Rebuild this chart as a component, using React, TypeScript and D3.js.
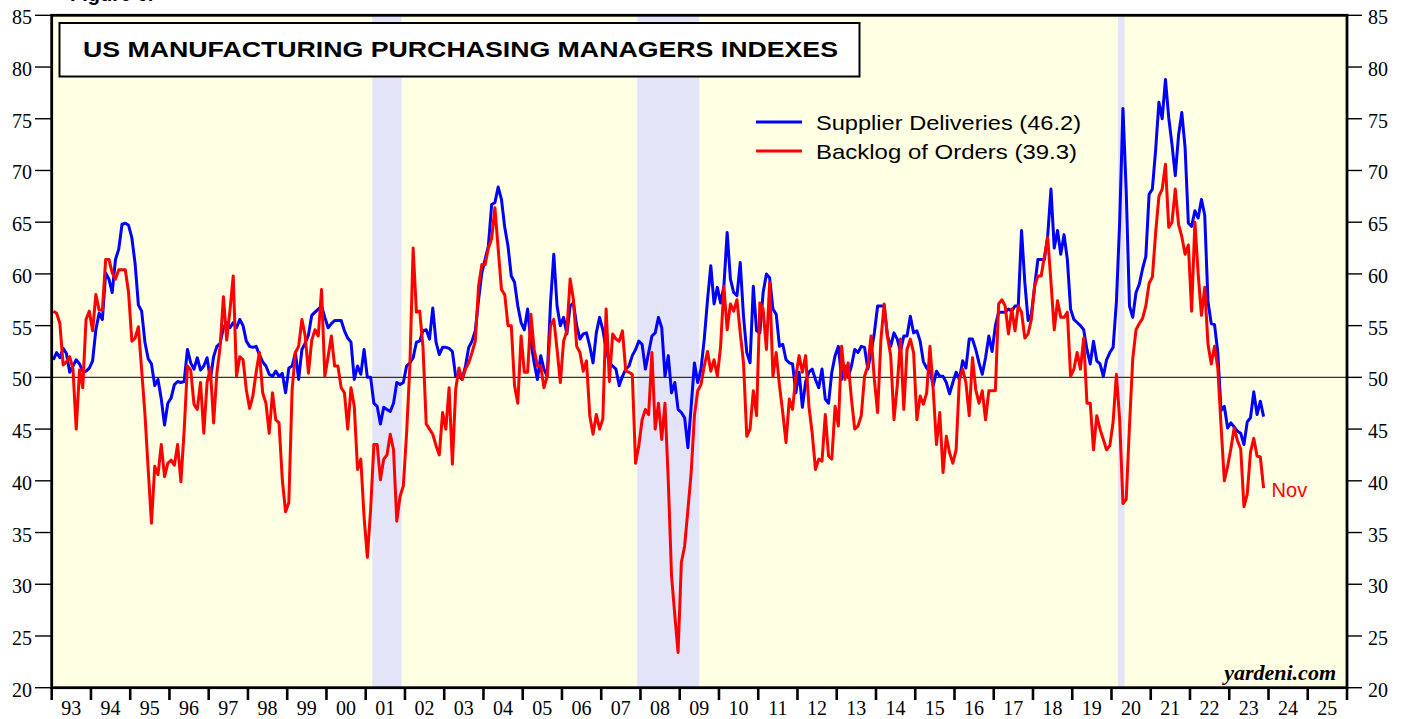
import React from "react";
import * as d3 from "d3";

const W = 1407;
const H = 719;

const yearLabels = ["93","94","95","96","97","98","99","00","01","02","03","04","05","06","07","08","09","10","11","12","13","14","15","16","17","18","19","20","21","22","23","24","25"];
const yTicks = [20, 25, 30, 35, 40, 45, 50, 55, 60, 65, 70, 75, 80, 85];

// recession bands as month index from Jan 1993 (start inclusive, end exclusive)
const recessions = [
  { start: 98, end: 107 },
  { start: 179, end: 198 },
  { start: 326, end: 328 },
];

// ISM Supplier Deliveries, monthly Jan 1993 - Nov 2023
const supplierDeliveries = [
  51.7, 52.4, 51.9, 52.8, 52.3, 50.5, 51.1, 51.7, 51.3, 50.6, 50.6, 50.9, // 1993
  51.6, 54.6, 56.2, 55.6, 60.1, 59.5, 58.2, 61.4, 62.4, 64.8, 64.9, 64.7, // 1994
  63.5, 61.0, 57.0, 56.4, 53.4, 51.8, 51.3, 49.2, 49.8, 47.9, 45.4, 47.5, // 1995
  48.0, 49.3, 49.6, 49.5, 49.6, 52.7, 51.4, 50.8, 51.9, 50.7, 51.1, 51.9, // 1996
  49.8, 52.0, 53.0, 53.3, 54.8, 55.3, 54.8, 55.3, 54.8, 55.6, 55.0, 53.5, // 1997
  53.0, 52.9, 53.0, 52.2, 51.5, 51.1, 50.3, 50.1, 50.6, 50.1, 50.4, 48.5, // 1998
  50.9, 51.1, 52.4, 49.8, 52.7, 53.3, 54.1, 56.0, 56.3, 56.6, 56.9, 55.8, // 1999
  54.8, 55.2, 55.5, 55.5, 55.5, 54.5, 53.8, 53.4, 49.8, 51.1, 50.3, 52.7, // 2000
  50.0, 50.0, 47.5, 47.2, 45.5, 47.1, 46.9, 46.7, 47.5, 49.5, 49.3, 49.5, // 2001
  51.1, 51.4, 51.9, 53.4, 53.5, 54.5, 54.6, 53.7, 56.7, 53.4, 52.2, 52.9, // 2002
  52.9, 52.8, 52.5, 50.1, 50.1, 49.8, 51.1, 52.9, 53.5, 54.5, 57.5, 60.1, // 2003
  61.4, 62.7, 66.7, 66.9, 68.4, 67.2, 64.5, 62.7, 59.8, 59.2, 56.9, 55.3, // 2004
  54.6, 56.6, 53.4, 51.4, 49.8, 52.1, 50.8, 50.1, 57.2, 61.9, 56.9, 55.0, // 2005
  55.8, 54.2, 56.9, 57.2, 55.0, 53.7, 54.2, 54.3, 53.0, 51.4, 54.3, 55.8, // 2006
  54.6, 52.7, 51.4, 51.1, 50.8, 49.2, 50.1, 50.8, 51.1, 52.1, 52.7, 53.5, // 2007
  53.2, 50.8, 52.4, 54.0, 54.3, 55.8, 54.8, 50.1, 52.1, 48.5, 49.5, 46.9, // 2008
  46.6, 46.1, 43.2, 47.2, 51.4, 49.5, 50.8, 53.7, 57.5, 60.8, 57.1, 58.7, // 2009
  57.2, 58.8, 64.0, 59.5, 58.2, 57.9, 61.1, 55.9, 52.4, 51.4, 58.8, 54.5, // 2010
  54.3, 58.2, 60.0, 59.6, 56.6, 56.1, 53.0, 53.2, 51.7, 51.4, 51.3, 48.5, // 2011
  50.5, 47.1, 49.6, 50.5, 50.8, 49.8, 49.0, 50.8, 47.9, 47.5, 50.5, 52.1, // 2012
  53.0, 49.8, 51.1, 50.0, 51.1, 52.7, 52.4, 53.0, 52.9, 50.8, 52.4, 54.3, // 2013
  56.9, 56.9, 56.9, 54.0, 53.0, 54.3, 53.7, 52.5, 54.0, 54.0, 55.9, 54.3, // 2014
  54.5, 53.5, 51.5, 50.9, 50.6, 49.2, 50.6, 50.1, 50.1, 49.5, 48.4, 49.5, // 2015
  50.5, 49.8, 51.6, 50.9, 53.7, 53.7, 52.7, 51.4, 50.3, 51.9, 54.0, 52.5, // 2016
  55.0, 56.3, 56.3, 56.3, 56.6, 56.4, 56.9, 56.9, 64.2, 59.2, 55.5, 56.1, // 2017
  58.8, 61.4, 61.4, 61.4, 63.7, 68.2, 62.5, 64.2, 61.9, 63.8, 61.4, 56.6, // 2018
  55.6, 55.3, 55.0, 54.6, 52.7, 51.3, 53.5, 51.6, 51.3, 50.1, 51.7, 52.4, // 2019
  52.9, 57.3, 65.0, 76.0, 68.0, 56.9, 55.8, 58.2, 59.0, 60.5, 61.7, 67.7, // 2020
  68.2, 72.0, 76.6, 75.0, 78.8, 75.1, 72.5, 69.5, 73.4, 75.6, 72.2, 64.9, // 2021
  64.6, 66.1, 65.4, 67.2, 65.7, 57.3, 55.2, 55.1, 52.4, 46.8, 47.2, 45.1, // 2022
  45.6, 45.2, 44.8, 44.6, 43.5, 45.7, 46.1, 48.6, 46.4, 47.7, 46.2,       // 2023
];

// ISM Backlog of Orders, monthly Jan 1993 - Nov 2023
const backlogOfOrders = [
  56.4, 56.2, 55.2, 51.2, 51.5, 52.0, 50.8, 45.0, 50.7, 49.0, 55.6, 56.4, // 1993
  54.5, 58.0, 56.5, 56.5, 61.4, 61.4, 60.1, 59.5, 60.4, 60.4, 60.4, 58.2, // 1994
  53.5, 53.8, 54.9, 50.7, 46.5, 41.1, 35.9, 41.4, 40.6, 43.5, 40.4, 41.7, // 1995
  42.0, 41.5, 43.5, 39.9, 44.9, 51.1, 50.7, 47.4, 46.9, 49.5, 44.6, 49.5, // 1996
  50.9, 45.6, 50.4, 53.0, 57.8, 53.6, 56.5, 59.8, 50.1, 52.0, 51.7, 48.8, // 1997
  47.0, 48.2, 50.5, 52.4, 48.5, 47.5, 44.6, 48.5, 45.9, 45.6, 40.1, 37.0, // 1998
  37.9, 48.8, 52.4, 53.0, 55.6, 54.0, 50.4, 53.6, 54.6, 54.0, 58.5, 50.1, // 1999
  52.0, 54.0, 51.1, 51.1, 49.0, 48.5, 45.0, 49.0, 47.2, 41.1, 42.1, 36.5, // 2000
  32.6, 37.2, 43.5, 43.5, 40.1, 42.1, 42.5, 44.5, 43.0, 36.1, 38.5, 39.5, // 2001
  44.6, 51.1, 62.5, 56.3, 56.4, 53.0, 45.5, 45.0, 44.5, 43.4, 42.5, 46.6, // 2002
  45.0, 49.0, 41.6, 48.8, 50.9, 49.8, 50.8, 51.4, 52.4, 53.5, 58.8, 60.9, // 2003
  60.9, 62.5, 63.4, 66.4, 62.4, 58.5, 58.0, 55.0, 55.0, 49.2, 47.5, 54.0, // 2004
  50.5, 50.5, 56.1, 52.7, 51.1, 51.1, 49.0, 50.1, 55.0, 55.6, 52.7, 49.5, // 2005
  53.5, 54.5, 59.5, 57.5, 53.0, 52.4, 50.6, 51.6, 46.3, 44.5, 46.4, 45.0, // 2006
  46.0, 56.6, 49.6, 54.2, 53.7, 53.5, 54.5, 50.6, 50.5, 50.3, 41.7, 43.4, // 2007
  45.9, 46.9, 46.4, 52.4, 45.0, 47.5, 44.0, 47.5, 40.0, 30.8, 27.0, 23.4, // 2008
  32.1, 33.7, 37.2, 40.8, 46.3, 48.7, 49.3, 51.1, 52.5, 50.6, 51.7, 50.1, // 2009
  53.0, 58.8, 54.6, 57.1, 56.4, 57.5, 54.3, 51.4, 44.3, 45.0, 48.7, 46.3, // 2010
  57.2, 56.6, 52.7, 59.2, 50.1, 52.4, 49.2, 46.6, 43.7, 47.9, 46.9, 50.1, // 2011
  52.1, 50.5, 52.1, 47.2, 44.6, 41.1, 42.1, 41.9, 46.4, 42.4, 42.1, 47.2, // 2012
  45.3, 53.0, 49.8, 51.4, 47.9, 45.0, 45.3, 46.3, 50.1, 51.1, 54.0, 49.8, // 2013
  46.6, 53.6, 57.1, 54.0, 52.1, 45.9, 49.2, 53.7, 46.9, 52.7, 53.7, 52.4, // 2014
  45.9, 48.2, 47.4, 48.5, 53.0, 48.8, 43.5, 46.6, 40.8, 44.3, 42.7, 41.7, // 2015
  43.0, 49.8, 50.8, 49.5, 46.3, 51.9, 48.8, 47.5, 48.7, 45.9, 48.7, 48.7, // 2016
  48.7, 57.1, 57.5, 56.9, 54.2, 56.6, 54.5, 56.9, 56.3, 53.8, 54.2, 55.6, // 2017
  58.8, 59.8, 59.8, 61.7, 63.5, 59.2, 54.6, 57.4, 55.8, 55.8, 56.3, 50.1, // 2018
  50.8, 52.4, 50.8, 53.8, 47.5, 47.5, 43.0, 46.3, 45.0, 44.0, 43.0, 43.4, // 2019
  45.7, 50.3, 45.9, 37.8, 38.2, 45.3, 51.8, 54.6, 55.2, 55.7, 56.9, 59.1, // 2020
  59.7, 64.0, 67.5, 68.2, 70.6, 64.5, 65.0, 68.2, 64.8, 63.6, 61.9, 62.8, // 2021
  56.4, 65.0, 60.0, 56.0, 58.7, 53.2, 51.3, 53.0, 50.9, 45.3, 40.0, 41.4, // 2022
  43.1, 45.1, 43.9, 43.1, 37.5, 38.7, 42.8, 44.1, 42.4, 42.3, 39.3,       // 2023
];

const seriesNames = ["Supplier Deliveries (46.2)", "Backlog of Orders (39.3)"];
const seriesColors = ["#0000FF", "#FF0000"];
const legendTextLengths = [265, 261];

const serif = "'Liberation Serif', 'DejaVu Serif', serif";
const sans = "'Liberation Sans', Arial, sans-serif";

export default function App() {
  const left = 51.7;
  const right = 1347;
  const top = 15.3;
  const bottom = 687.7;
  const totalMonths = yearLabels.length * 12;

  const x = d3.scaleLinear().domain([0, totalMonths]).range([left, right]);
  const y = d3.scaleLinear().domain([20, 85]).range([bottom, top]);

  const line = d3
    .line<number>()
    .x((_, i) => x(i + 0.5))
    .y((d) => y(d));

  const lastIdx = backlogOfOrders.length - 1;

  return (
    <div style={{ position: "absolute", left: 0, top: 0 }}>
      <svg width={W} height={H} style={{ display: "block", background: "#ffffff" }}>
        {/* plot background */}
        <rect x={left} y={top} width={right - left} height={bottom - top} fill="#FFFFE3" />
        {recessions.map((r, i) => (
          <rect key={i} x={x(r.start)} y={top} width={x(r.end) - x(r.start)} height={bottom - top} fill="#E4E4F9" />
        ))}

        {/* 50 line */}
        <line x1={left} x2={right} y1={y(50)} y2={y(50)} stroke="#333" strokeWidth={1.3} />

        {/* series */}
        <path d={line(supplierDeliveries) || ""} fill="none" stroke={seriesColors[0]} strokeWidth={3} strokeLinejoin="round" />
        <path d={line(backlogOfOrders) || ""} fill="none" stroke={seriesColors[1]} strokeWidth={3} strokeLinejoin="round" />

        {/* Nov label */}
        <text x={x(lastIdx + 0.5) + 8} y={y(backlogOfOrders[lastIdx]) + 9} fontFamily={sans} fontSize={20} fill="#FF0000">Nov</text>

        {/* frame */}
        <rect x={left} y={top} width={right - left} height={bottom - top} fill="none" stroke="#000" strokeWidth={2.8} />

        {/* y ticks left & right */}
        {yTicks.map((t) => (
          <g key={t}>
            <line x1={35} x2={left} y1={y(t)} y2={y(t)} stroke="#000" strokeWidth={1.4} />
            <text x={32} y={y(t) + 9} textAnchor="end" fontFamily={serif} fontSize={20} fill="#000">{t}</text>
            <line x1={right} x2={1362} y1={y(t)} y2={y(t)} stroke="#000" strokeWidth={1.4} />
            <text x={1368} y={y(t) + 9} textAnchor="start" fontFamily={serif} fontSize={20} fill="#000">{t}</text>
          </g>
        ))}

        {/* x ticks */}
        {d3.range(0, yearLabels.length + 1).map((k) => (
          <line key={k} x1={x(k * 12)} x2={x(k * 12)} y1={bottom} y2={700} stroke="#000" strokeWidth={2.6} />
        ))}
        {yearLabels.map((lab, k) => (
          <text key={lab} x={x(k * 12 + 6)} y={715} textAnchor="middle" fontFamily={serif} fontSize={20} fill="#000">{lab}</text>
        ))}

        {/* title box */}
        <rect x={59.5} y={23} width={800} height={53.5} fill="#ffffff" stroke="#000" strokeWidth={2} />
        <text x={83} y={57} fontFamily={sans} fontWeight="bold" fontSize={21.5} fill="#000" textLength={755} lengthAdjust="spacingAndGlyphs">
          US MANUFACTURING PURCHASING MANAGERS INDEXES
        </text>

        {/* legend */}
        {seriesNames.map((name, i) => (
          <g key={name}>
            <line x1={756} x2={802} y1={122 + i * 29} y2={122 + i * 29} stroke={seriesColors[i]} strokeWidth={3.2} />
            <text x={816} y={129.5 + i * 29} fontFamily={sans} fontSize={21} fill="#000" textLength={legendTextLengths[i]} lengthAdjust="spacingAndGlyphs">{name}</text>
          </g>
        ))}

        {/* source */}
        <text x={1336} y={680} textAnchor="end" fontFamily={serif} fontWeight="bold" fontStyle="italic" fontSize={22} fill="#000">yardeni.com</text>

        {/* cut-off figure caption at the very top */}
        <text x={70} y={0.5} fontFamily={sans} fontWeight="bold" fontSize={20} fill="#000">Figure 6.</text>
      </svg>
    </div>
  );
}
